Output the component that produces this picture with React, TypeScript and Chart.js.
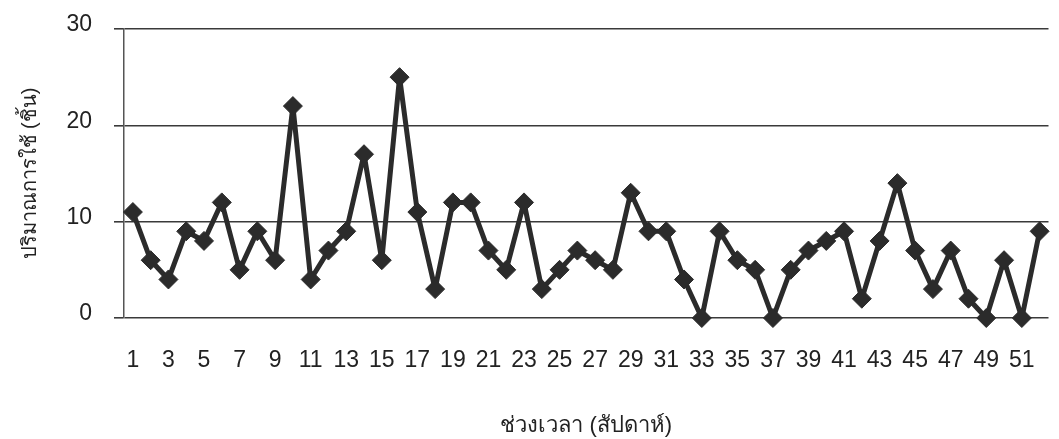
import React, { useEffect, useRef } from "react";
import { Chart, registerables } from "chart.js";

Chart.register(...registerables);

const weeks: string[] = [
  "1", "2", "3", "4", "5", "6", "7", "8", "9", "10",
  "11", "12", "13", "14", "15", "16", "17", "18", "19", "20",
  "21", "22", "23", "24", "25", "26", "27", "28", "29", "30",
  "31", "32", "33", "34", "35", "36", "37", "38", "39", "40",
  "41", "42", "43", "44", "45", "46", "47", "48", "49", "50",
  "51", "52",
];

const usage: number[] = [
  11, 6, 4, 9, 8, 12, 5, 9, 6, 22,
  4, 7, 9, 17, 6, 25, 11, 3, 12, 12,
  7, 5, 12, 3, 5, 7, 6, 5, 13, 9,
  9, 4, 0, 9, 6, 5, 0, 5, 7, 8,
  9, 2, 8, 14, 7, 3, 7, 2, 0, 6,
  0, 9,
];

const yTicks: number[] = [0, 10, 20, 30];

const xTitle = "ช่วงเวลา (สัปดาห์)";
const yTitle = "ปริมาณการใช้ (ชิ้น)";

const TICK_FONT = '"Liberation Sans", Arial, sans-serif';
const TITLE_FONT = '"Liberation Sans", "Noto Sans", sans-serif';

export default function App() {
  const ref = useRef<HTMLCanvasElement | null>(null);

  useEffect(() => {
    document.body.style.margin = "0";
    const canvas = ref.current;
    if (!canvas) return;
    const chart = new Chart(canvas, {
      type: "line",
      data: {
        labels: weeks,
        datasets: [
          {
            data: usage,
            borderColor: "#2b2b2b",
            backgroundColor: "#2b2b2b",
            borderWidth: 5,
            borderJoinStyle: "bevel",
            pointStyle: "rectRot",
            pointRadius: 9.5,
            pointBorderWidth: 1,
            pointBackgroundColor: "#2b2b2b",
            pointBorderColor: "#2b2b2b",
            tension: 0,
            clip: false as any,
          },
        ],
      },
      options: {
        animation: false,
        responsive: false,
        maintainAspectRatio: false,
        layout: { padding: { top: 0, right: 2, left: 0, bottom: 0 } },
        plugins: {
          legend: { display: false },
          tooltip: { enabled: false },
        },
        scales: {
          x: {
            type: "category",
            offset: true,
            grid: {
              display: true,
              drawOnChartArea: false,
              drawTicks: true,
              tickLength: 26,
              color: "rgba(0,0,0,0)",
            },
            border: { display: false },
            ticks: {
              autoSkip: false,
              maxRotation: 0,
              minRotation: 0,
              padding: 3,
              color: "#222",
              font: { family: TICK_FONT, size: 23 },
              callback: (_v: any, i: number) => (i % 2 === 0 ? weeks[i] : ""),
            },
            title: {
              display: true,
              text: xTitle,
              color: "#222",
              font: { family: TITLE_FONT, size: 22 },
              padding: { top: 18, bottom: 0 },
            },
            afterFit: (s: any) => {
              s.height = 121;
            },
          },
          y: {
            min: 0,
            max: 30,
            afterBuildTicks: (s: any) => {
              s.ticks = yTicks.map((v) => ({ value: v }));
            },
            grid: {
              color: "#3a3a3a",
              lineWidth: 1.6,
              drawTicks: true,
              tickLength: 10,
            },
            border: { display: true, color: "#555", width: 1.5 },
            ticks: {
              padding: 22,
              labelOffset: -4,
              color: "#222",
              font: { family: TICK_FONT, size: 23 },
            },
            title: {
              display: true,
              text: yTitle,
              color: "#222",
              font: { family: TITLE_FONT, size: 20 },
              padding: { top: 18, bottom: 0 },
            },
            afterFit: (s: any) => {
              s.width = 124;
              s.paddingTop = 29;
              s.paddingBottom = 0;
            },
          },
        },
      },
    });
    return () => chart.destroy();
  }, []);

  return (
    <div style={{ width: 1059, height: 439, background: "#fff" }}>
      <canvas ref={ref} width={1059} height={439} style={{ display: "block" }} />
    </div>
  );
}
